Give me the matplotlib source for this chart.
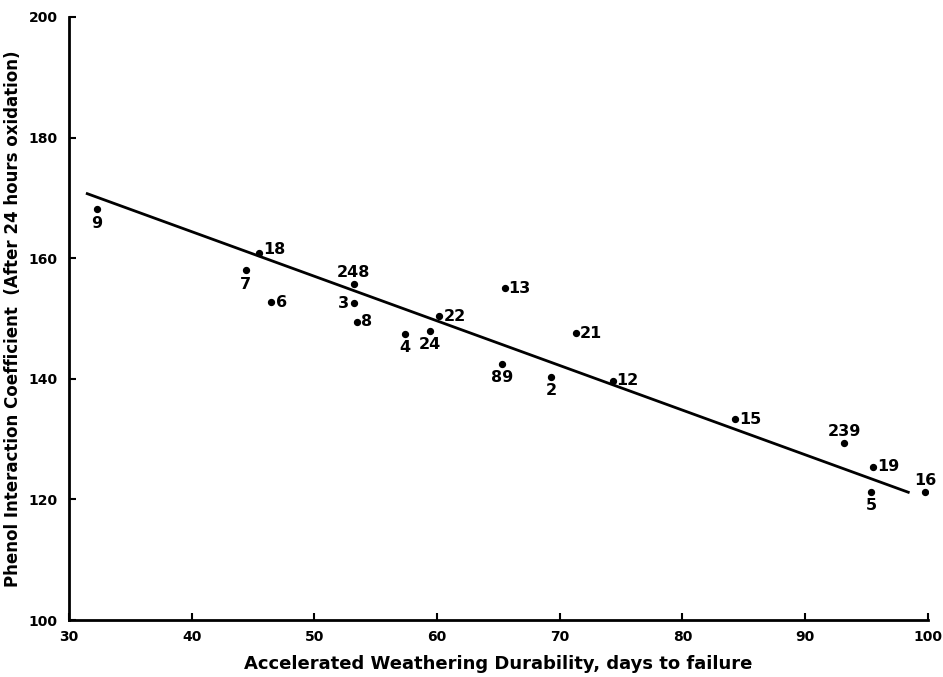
import numpy as np
import matplotlib
matplotlib.use('Agg')
import matplotlib.pyplot as plt

# durability (days to failure), phenol interaction coefficient, sample labels
durability = [32.3, 45.5, 44.4, 46.5, 53.2, 53.2, 53.5, 57.4, 59.4, 60.2,
              65.5, 65.3, 69.3, 71.3, 74.3, 84.3, 93.2, 95.5, 95.4, 99.8]
coefficient = [168.1, 160.8, 158.0, 152.7, 155.7, 152.5, 149.5, 147.5, 147.9, 150.4,
               155.0, 142.5, 140.3, 147.6, 139.7, 133.3, 129.4, 125.4, 121.3, 121.2]
labels = ['9', '18', '7', '6', '248', '3', '8', '4', '24', '22',
          '13', '89', '2', '21', '12', '15', '239', '19', '5', '16']
# where each label sits relative to its point
label_side = ['below', 'right', 'below', 'right', 'above', 'left', 'right', 'below', 'below', 'right',
              'right', 'below', 'below', 'right', 'right', 'right', 'above', 'right', 'below', 'above']

# fitted line end points
fit_x = [31.5, 98.4]
fit_y = [170.7, 121.2]

offsets = {
    'below': ((0, -4.5), 'center', 'top'),
    'above': ((0, 3), 'center', 'bottom'),
    'right': ((3, 0), 'left', 'center'),
    'left': ((-3, 0), 'right', 'center'),
}

plt.rcParams['font.family'] = ['DejaVu Sans']
fig = plt.figure(figsize=(9.43, 6.77), dpi=100)
ax = fig.add_axes([0.073, 0.084, 0.911, 0.891])

ax.plot(fit_x, fit_y, color='black', linewidth=2)
ax.scatter(durability, coefficient, s=18, color='black', zorder=3)

for x, y, lab, side in zip(durability, coefficient, labels, label_side):
    off, ha, va = offsets[side]
    if lab == '18':
        off = (3, 3)
    ax.annotate(lab, (x, y), xytext=off, textcoords='offset points',
                ha=ha, va=va, fontsize=11.5, fontweight='bold')

ax.set_xlim(30, 100)
ax.set_ylim(100, 200)
ax.set_xticks(np.arange(30, 101, 10))
ax.set_yticks(np.arange(100, 201, 20))
ax.spines['top'].set_visible(False)
ax.spines['right'].set_visible(False)
ax.spines['left'].set_linewidth(2)
ax.spines['bottom'].set_linewidth(2)
ax.tick_params(direction='in', length=5, width=1.5, labelsize=10)
ax.tick_params(axis='y', pad=8)
ax.tick_params(axis='x', pad=7)
for t in ax.get_xticklabels() + ax.get_yticklabels():
    t.set_fontweight('bold')

ax.set_xlabel('Accelerated Weathering Durability, days to failure',
              fontsize=13, fontweight='bold', labelpad=8)
ax.set_ylabel('Phenol Interaction Coefficient  (After 24 hours oxidation)',
              fontsize=12, fontweight='bold', labelpad=5)

fig.savefig('out.png', dpi=100)
